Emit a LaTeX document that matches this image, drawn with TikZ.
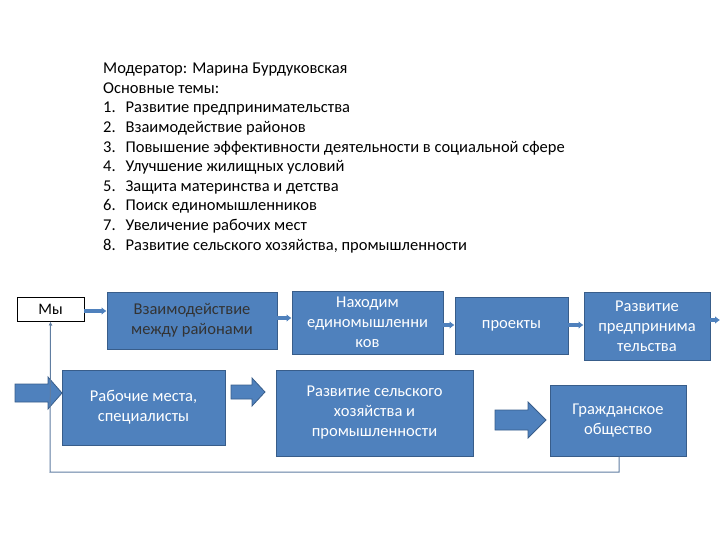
\documentclass[tikz,border=0pt]{standalone}
\usepackage{fontspec}
\setmainfont{Carlito}
\usetikzlibrary{arrows.meta}
\definecolor{bfill}{HTML}{4F81BD}
\definecolor{bline}{HTML}{385D8A}
\begin{document}
\begin{tikzpicture}[x=1pt,y=-1pt,
  bx/.style={draw=bline,fill=bfill,line width=1pt,text=white,align=center,font=\fontsize{16.5}{20}\selectfont,inner sep=1pt},
  barrow/.style={draw=bline,fill=bfill,line width=0.8pt},
  small/.style={-{Latex[length=5pt,width=8pt]},line width=3.5pt,draw=bfill}]
\useasboundingbox (0,0) rectangle (720,540);
\node[anchor=north west,align=left,font=\fontsize{16.5}{19.6}\selectfont,inner sep=0pt] (txt) at (103,63) {Модератор: Марина Бурдуковская\\
Основные темы:\\
1.\hspace{0.6em}Развитие предпринимательства\\
2.\hspace{0.6em}Взаимодействие районов\\
3.\hspace{0.6em}Повышение эффективности деятельности в социальной сфере\\
4.\hspace{0.6em}Улучшение жилищных условий\\
5.\hspace{0.6em}Защита материнства и детства\\
6.\hspace{0.6em}Поиск единомышленников\\
7.\hspace{0.6em}Увеличение рабочих мест\\
8.\hspace{0.6em}Развитие сельского хозяйства, промышленности};
\node[draw=black,line width=1pt,minimum width=67pt,minimum height=24pt,font=\fontsize{16}{19}\selectfont,inner sep=0pt] (my) at (50.5,309) {Мы};
\node[bx,minimum width=170pt,minimum height=57pt,text=black!80] (b1) at (192,320.5) {Взаимодействие\\между районами};
\node[bx,minimum width=151pt,minimum height=63pt] (b2) at (367.5,322.5) {Находим\\единомышленни\\ков};
\node[bx,minimum width=113pt,minimum height=57pt] (b3) at (511.5,325.5) {проекты};
\node[bx,minimum width=126pt,minimum height=68pt] (b4) at (647,326) {Развитие\\предпринима\\тельства};
\node[bx,minimum width=163pt,minimum height=75pt] (c1) at (143.5,407.5) {Рабочие места,\\специалисты};
\node[bx,minimum width=197pt,minimum height=86pt] (c2) at (374.5,413) {Развитие сельского\\хозяйства и\\промышленности};
\node[bx,minimum width=136pt,minimum height=71pt] (c3) at (618,420.5) {Гражданское\\общество};
\coordinate (s1) at (84,311);
\draw[small] (s1) -- (s1 -| b1.west);
\coordinate (s2) at (277,318);
\draw[small] (s2) -- (s2 -| b2.west);
\coordinate (s3) at (443,325);
\draw[small] (s3) -- (s3 -| b3.west);
\coordinate (s4) at (568,325);
\draw[small] (s4) -- (s4 -| b4.west);
\coordinate (s5) at (710,320);
\coordinate (out) at (720,320);
\draw[small] (s5) -- (out);
% block arrows
\draw[barrow] (15,384) -- (48,384) -- (48,377) -- (62,393) -- (48,409) -- (48,402) -- (15,402) -- cycle;
\draw[barrow] (231,385) -- (252,385) -- (252,378) -- (265,392) -- (252,406) -- (252,399) -- (231,399) -- cycle;
\draw[barrow] (495,410) -- (528,410) -- (528,402) -- (546,420) -- (528,438) -- (528,430) -- (495,430) -- cycle;
\coordinate (k1) at (619,472);
\coordinate (k2) at (50,472);
\draw[bline!80,line width=1pt,-{Latex[length=4pt,width=4pt]}] (c3.south -| k1) -- (k1) -- (k2) -- (my.south);
\end{tikzpicture}
\end{document}
